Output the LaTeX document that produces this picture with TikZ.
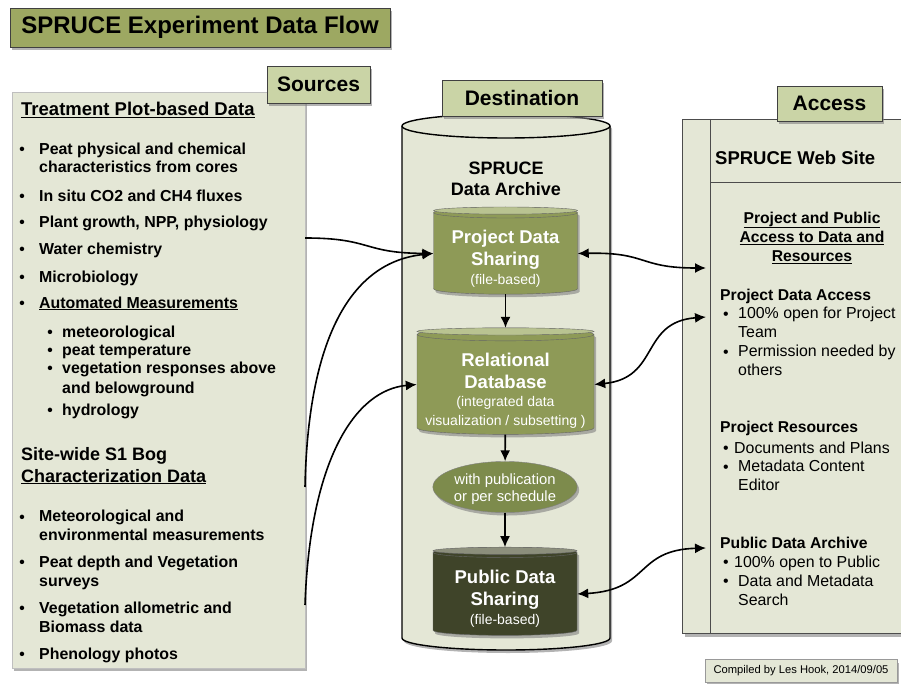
\documentclass[tikz,border=0pt]{standalone}
\usepackage{fontspec}
\setmainfont{Liberation Sans}
\usetikzlibrary{positioning,shapes.geometric,shadows,arrows.meta}
\definecolor{titlefill}{HTML}{9DA862}
\definecolor{tagfill}{HTML}{CAD4A6}
\definecolor{panelfill}{HTML}{E4E7D6}
\definecolor{dbfill}{HTML}{8E9A57}
\definecolor{dbtop}{HTML}{B9C391}
\definecolor{schedfill}{HTML}{7D8B4C}
\definecolor{pubfill}{HTML}{3F4429}
\definecolor{pubtop}{HTML}{8C8F7C}
\newcommand{\dbnote}{\mdseries\fontsize{14}{17}\selectfont}

\tikzset{
  shade/.style={drop shadow={shadow xshift=2pt, shadow yshift=-3pt, opacity=0.6}},
  tag/.style={draw=black!75, line width=0.8pt, fill=tagfill, shade, inner sep=0pt,
    font=\bfseries\fontsize{21}{25}\selectfont},
  db/.style={cylinder, shape border rotate=90, draw=black!60, fill=dbfill, aspect=0.1, inner sep=0pt,
    text=white, align=center, font=\bfseries\fontsize{18.5}{22}\selectfont, shade},
  flow/.style={-{Latex[length=11pt,width=10pt]}, line width=1.6pt},
  twoway/.style={{Latex[length=11pt,width=10pt]}-{Latex[length=11pt,width=10pt]}, line width=1.6pt},
  item/.style={anchor=base west, inner sep=0pt, align=left, font=\bfseries\fontsize{15.9}{18.5}\selectfont},
  dot/.style={anchor=base, inner sep=0pt, font=\bfseries\fontsize{15.5}{18.5}\selectfont},
  webitem/.style={anchor=base west, inner sep=0pt, align=left, font=\fontsize{15.9}{18.5}\selectfont},
  webhead/.style={anchor=base west, inner sep=0pt, font=\bfseries\fontsize{15.7}{18.5}\selectfont}
}

\begin{document}
\begin{tikzpicture}[x=1pt, y=-1pt]
  \useasboundingbox (0,0) rectangle (901,684);

  % title
  \node[draw=black!75, line width=0.8pt, fill=titlefill, shade, minimum width=380, minimum height=39,
    font=\bfseries\fontsize{24}{28}\selectfont] (title) at (200,27.5) {SPRUCE Experiment Data Flow};

  % sources panel
  \node[fill=panelfill, draw=black!25, shade, minimum width=293, minimum height=576, anchor=north west] (src) at (12,92) {};
  \node[tag, minimum width=103, minimum height=37] (sources) at (318.5,84.5) {Sources};

  \node[item] (treat) at (21,116) {\fontsize{18.5}{22}\selectfont\underline{Treatment Plot-based Data}};
  \foreach \y/\yb/\txt in {155/173/{Peat physical and chemical\\characteristics from cores},
      202/202/{In situ CO2 and CH4 fluxes}, 228/228/{Plant growth, NPP, physiology},
      255/255/{Water chemistry}, 283/283/{Microbiology}, 308/308/{\underline{Automated Measurements}}} {
    \node[dot] (tdot-\y) at (22,\y) {•};
    \node[item] (titem-\y) at (39,\yb) {\txt};
  }
  \foreach \y/\yb/\txt in {337/337/{meteorological}, 355/355/{peat temperature},
      373/393/{vegetation responses above\\[1.5pt]and belowground}, 415/415/{hydrology}} {
    \node[dot] (adot-\y) at (50,\y) {•};
    \node[item] (aitem-\y) at (62,\yb) {\txt};
  }
  \node[item, font=\bfseries\fontsize{18}{22}\selectfont] (bog) at (21,482) {Site-wide S1 Bog\\\underline{Characterization Data}};
  \foreach \y/\yb/\txt in {522/540/{Meteorological and\\environmental measurements},
      567/586/{Peat depth and Vegetation\\surveys}, 613/632/{Vegetation allometric and\\Biomass data},
      659/659/{Phenology photos}} {
    \node[dot] (bdot-\y) at (22,\y) {•};
    \node[item] (bitem-\y) at (39,\yb) {\txt};
  }

  % destination archive
  \path[fill=panelfill, draw, line width=1.4pt, shade] (402,126) -- (402,638)
    arc[start angle=180, end angle=0, x radius=104, y radius=12] -- (610,126)
    arc[start angle=0, end angle=-180, x radius=104, y radius=12] -- cycle;
  \draw[line width=1.4pt] (402,126) arc[start angle=180, end angle=0, x radius=104, y radius=12];
  \node[tag, minimum width=160, minimum height=36] (destination) at (522,98) {Destination};
  \node[anchor=base, align=center, inner sep=0pt, font=\bfseries\fontsize{18}{21}\selectfont] (archive title)
    at (506,196) {SPRUCE\\Data Archive};

  \node[db, minimum width=144, minimum height=87] (pds) at (505.5,253.5)
    {\rule{0pt}{23pt}Project Data\\Sharing\\[-3pt]{\dbnote (file-based)}};
  \node[db, aspect=0.08, minimum width=177, minimum height=95] (rdb) at (505.5,384.5)
    {\rule{0pt}{25pt}Relational\\Database\\[-4pt]{\dbnote (integrated data}\\[-3pt]{\dbnote visualization / subsetting )}};
  \node[ellipse, fill=schedfill, draw=black!50, minimum width=144, minimum height=51, inner sep=0pt,
    text=white, align=center, font=\fontsize{14.8}{17}\selectfont, shade] (sched) at (505,487)
    {\rule{0pt}{16pt}with publication\\or per schedule};
  \node[db, fill=pubfill, minimum width=144, minimum height=88]
    (pub) at (505,594) {\rule{0pt}{23pt}Public Data\\Sharing\\[-3pt]{\dbnote (file-based)}};
  \foreach \n/\r/\c in {pds/72/dbtop, rdb/88.5/dbtop, pub/72/pubtop}
    \draw[black!60, fill=\c] ([yshift=-3.6pt]\n.north) ellipse [x radius=\r, y radius=3.6];

  \draw[flow] (pds) -- (rdb);
  \draw[flow] (rdb) -- (sched);
  \draw[flow] (sched) -- (pub);

  % access panel
  \node[fill=panelfill, draw=black!70, line width=1pt, shade, minimum width=225, minimum height=514,
    anchor=north west] (web) at (682,119) {};
  \draw[black!70, line width=1pt] (710,119) -- (710,633);
  \draw[black!70, line width=1pt] (710,183) -- (907,183);
  \node[tag, minimum width=105, minimum height=35] (access) at (829.5,103.5) {Access};

  \node[anchor=base west, inner sep=0pt, font=\bfseries\fontsize{18.5}{22}\selectfont] (site) at (715,165) {SPRUCE Web Site};
  \node[anchor=base, align=center, inner sep=0pt, font=\bfseries\fontsize{15.7}{19.5}\selectfont] (overview)
    at (812,262) {\underline{Project and Public}\\\underline{Access to Data and}\\\underline{Resources}};

  \node[webhead] (pda) at (720,300) {Project Data Access};
  \node[webitem] (pda-dot1) at (723,319) {•};
  \node[webitem] (pda-1) at (738,337) {100\% open for Project\\Team};
  \node[webitem] (pda-dot2) at (723,357) {•};
  \node[webitem] (pda-2) at (738,375) {Permission needed by\\others};

  \node[webhead] (res) at (720,432) {Project Resources};
  \node[webitem] (res-dot1) at (723,453) {•};
  \node[webitem] (res-1) at (734,453) {Documents and Plans};
  \node[webitem] (res-dot2) at (723,472) {•};
  \node[webitem] (res-2) at (738,490) {Metadata Content\\Editor};

  \node[webhead] (arch) at (720,548) {Public Data Archive};
  \node[webitem] (arch-dot1) at (723,567) {•};
  \node[webitem] (arch-1) at (734,567) {100\% open to Public};
  \node[webitem] (arch-dot2) at (723,586) {•};
  \node[webitem] (arch-2) at (738,605) {Data and Metadata\\Search};

  % connectors
  \coordinate (treat out) at (305,238);
  \coordinate (bog out) at (305,487);
  \coordinate (bog low) at (305,605);
  \draw[flow] (treat out) .. controls (372,238) and (362,253) .. (pds.west);
  \draw[flow] (bog out) .. controls (308,340) and (350,262) .. (pds.west);
  \draw[flow] (bog low) .. controls (310,460) and (355,390) .. (rdb.west);

  \coordinate (web in1) at (706,268);
  \coordinate (web in2) at (706,317);
  \coordinate (web in3) at (706,548);
  \draw[twoway] (pds.east) .. controls (648,252) and (638,268) .. (web in1);
  \draw[twoway] (rdb.east) .. controls (660,378) and (640,322) .. (web in2);
  \draw[twoway] (pub.east) .. controls (650,590) and (635,550) .. (web in3);

  % credit
  \node[draw=black!40, fill=panelfill, shade, minimum width=192, minimum height=23, inner sep=0pt,
    font=\fontsize{11.2}{13}\selectfont] (credit) at (801,671) {Compiled by Les Hook, 2014/09/05};
\end{tikzpicture}
\end{document}
